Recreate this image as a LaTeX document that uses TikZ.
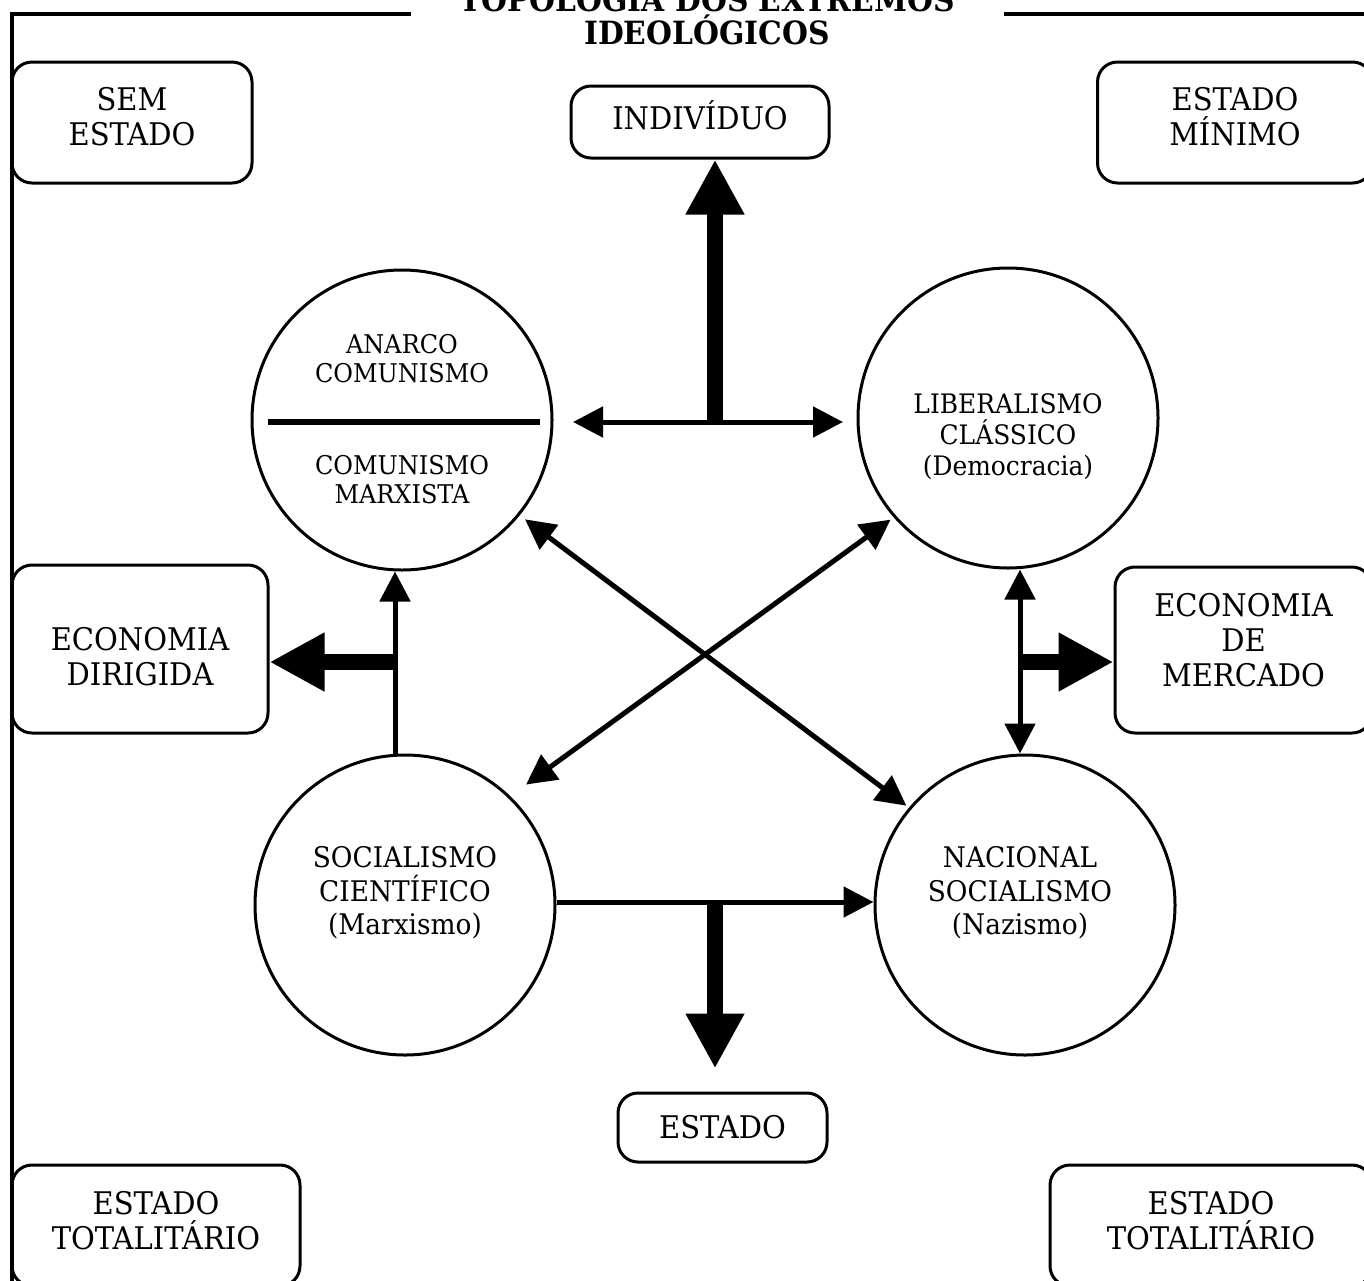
\documentclass[tikz,border=0pt]{standalone}
\usepackage{fontspec}
\setmainfont{DejaVu Serif}[FakeStretch=0.93]
\usetikzlibrary{arrows.meta}

\begin{document}
\begin{tikzpicture}[x=0.5pt, y=-0.5pt, >={Triangle[length=15pt, width=15pt]},
        caixa/.style={draw, line width=1.5pt, rounded corners=10pt, inner sep=0pt},
        texto/.style={align=center, inner sep=0pt, font=\fontsize{15.6}{17.5}\selectfont},
        bola/.style={draw, circle, line width=1.5pt, minimum size=150pt, inner sep=0pt},
        rotulo/.style={align=center, inner sep=0pt},
        fino/.style={line width=2.5pt},
        grosso/.style={line width=8pt, -{Triangle[length=27.5pt, width=27.5pt]}}]

        \useasboundingbox (0,0) rectangle (1364,1280);
        \clip (0,0) rectangle (1364,1280);

        \draw [line width=1.7pt] (12,1300) -- (12,14) -- (1400,14);
        \node [fill=white, minimum width=296.5pt, inner sep=0pt, align=center, font=\bfseries\fontsize{16}{16.5}\selectfont] (titulo) at (707,16) {TOPOLOGIA DOS EXTREMOS\\IDEOLÓGICOS};

        \node [caixa, minimum width=120pt, minimum height=60.5pt] (semestado) at (132,122.5) {};
        \node [caixa, minimum width=137.5pt, minimum height=60.5pt] (minimo) at (1235,122.5) {};
        \node [caixa, minimum width=129pt, minimum height=36pt] (individuo) at (700,122) {};
        \node [caixa, minimum width=128pt, minimum height=84pt] (dirigida) at (140,649) {};
        \node [caixa, minimum width=128.5pt, minimum height=83pt] (mercado) at (1243.5,650) {};
        \node [caixa, minimum width=104.5pt, minimum height=34.5pt] (estado) at (722.5,1127.5) {};
        \node [caixa, minimum width=144pt, minimum height=60.5pt] (totesq) at (156,1225.5) {};
        \node [caixa, minimum width=161pt, minimum height=60.5pt] (totdir) at (1211,1225.5) {};

        \node [texto, yshift=3pt] (semestadotxt) at (semestado) {SEM\\ESTADO};
        \node [texto, yshift=3pt] (minimotxt) at (minimo) {ESTADO\\MÍNIMO};
        \node [texto, yshift=3.5pt] (individuotxt) at (individuo) {INDIVÍDUO};
        \node [texto, yshift=-4pt] (dirigidatxt) at (dirigida) {ECONOMIA\\DIRIGIDA};
        \node [texto, yshift=5pt] (mercadotxt) at (mercado) {ECONOMIA\\DE\\MERCADO};
        \node [texto] (estadotxt) at (estado) {ESTADO};
        \node [texto, yshift=2.25pt] (totesqtxt) at (totesq) {ESTADO\\TOTALITÁRIO};
        \node [texto, yshift=2.25pt] (totdirtxt) at (totdir) {ESTADO\\TOTALITÁRIO};

        \node [bola] (anarco) at (402,420) {};
        \node [bola] (liberal) at (1008,418) {};
        \node [bola] (socialismo) at (405,905) {};
        \node [bola] (nazismo) at (1025,905) {};

        \node [rotulo, font=\fontsize{12.9}{14.5}\selectfont, yshift=30.75pt] (anarcotxt) at (anarco) {ANARCO\\COMUNISMO};
        \node [rotulo, font=\fontsize{12.9}{14.5}\selectfont, yshift=-29.75pt] (marxtxt) at (anarco) {COMUNISMO\\MARXISTA};
        \draw [line width=3pt] ([xshift=-67pt, yshift=-1pt]anarco.center) -- ([xshift=69pt, yshift=-1pt]anarco.center);
        \node [rotulo, font=\fontsize{13.4}{15.5}\selectfont, yshift=-9.5pt] (libtxt) at (liberal) {LIBERALISMO\\CLÁSSICO\\(Democracia)};
        \node [rotulo, font=\fontsize{14.2}{16.75}\selectfont, yshift=6pt] (soctxt) at (socialismo) {SOCIALISMO\\CIENTÍFICO\\(Marxismo)};
        \node [rotulo, font=\fontsize{14.2}{16.75}\selectfont, xshift=-2.5pt, yshift=6pt] (naztxt) at (nazismo) {NACIONAL\\SOCIALISMO\\(Nazismo)};

        \coordinate (topo) at (715,422);
        \coordinate (base) at (715,902);
        \coordinate (esq) at (395,662);
        \coordinate (dir) at (1020,662);

        \draw [fino, <->, shorten <=9.75pt, shorten >=6.75pt] (anarco.east |- topo) -- (liberal.west |- topo);
        \draw [grosso] (topo) -- (topo |- individuo.south);
        \draw [fino, ->] (base -| socialismo.east) -- (base -| nazismo.west);
        \draw [grosso, shorten >=11.5pt] (base) -- (base |- estado.north);

        \draw [fino, ->] (esq |- socialismo.north) -- (esq |- anarco.south);
        \draw [grosso] (esq) -- (esq -| dirigida.east);
        \draw [fino, <->] (dir |- liberal.south) -- (dir |- nazismo.north);
        \draw [grosso] (dir) -- (dir -| mercado.west);

        \draw [fino, <->, shorten <=9.75pt, shorten >=1.9pt] (socialismo.46) -- (liberal.221);
        \draw [fino, <->, shorten <=3.3pt, shorten >=1.6pt] (anarco.321) -- (nazismo.140);
    \end{tikzpicture}
\end{document}
